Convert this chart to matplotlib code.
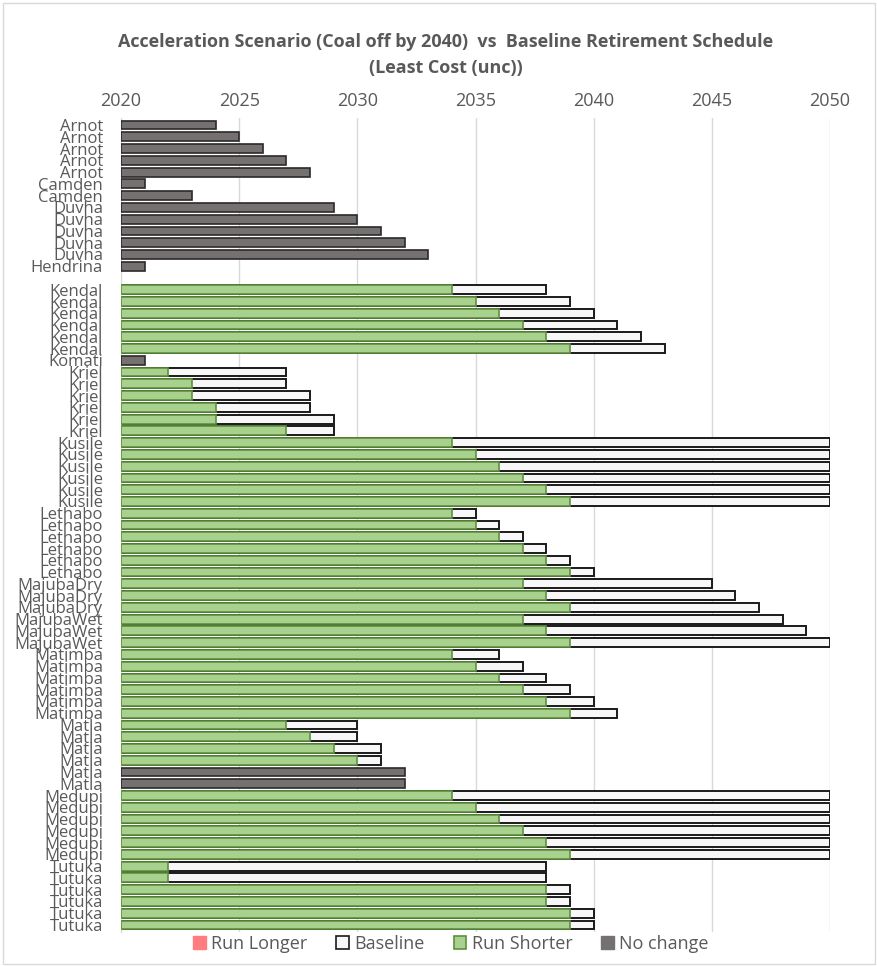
import matplotlib
matplotlib.use("Agg")
import matplotlib.pyplot as plt
import numpy as np
from matplotlib.patches import Patch, Rectangle

plt.rcParams['font.family'] = ['Open Sans', 'DejaVu Sans']

N = np.nan
plants = (["Arnot"] * 5 + ["Camden"] * 2 + ["Duvha"] * 5 + ["Hendrina", ""] +
          ["Kendal"] * 6 + ["Komati"] + ["Kriel"] * 6 + ["Kusile"] * 6 +
          ["Lethabo"] * 6 + ["MajubaDry"] * 3 + ["MajubaWet"] * 3 +
          ["Matimba"] * 6 + ["Matla"] * 6 + ["Medupi"] * 6 + ["Tutuka"] * 6)

run_shorter = ([N] * 5 + [N] * 2 + [N] * 5 + [N, N] +
               [2034, 2035, 2036, 2037, 2038, 2039] + [N] +
               [2022, 2023, 2023, 2024, 2024, 2027] +
               [2034, 2035, 2036, 2037, 2038, 2039] +
               [2034, 2035, 2036, 2037, 2038, 2039] +
               [2037, 2038, 2039] + [2037, 2038, 2039] +
               [2034, 2035, 2036, 2037, 2038, 2039] +
               [2027, 2028, 2029, 2030, N, N] +
               [2034, 2035, 2036, 2037, 2038, 2039] +
               [2022, 2022, 2038, 2038, 2039, 2039])

baseline = ([N] * 5 + [N] * 2 + [N] * 5 + [N, N] +
            [2038, 2039, 2040, 2041, 2042, 2043] + [N] +
            [2027, 2027, 2028, 2028, 2029, 2029] +
            [2050] * 6 +
            [2035, 2036, 2037, 2038, 2039, 2040] +
            [2045, 2046, 2047] + [2048, 2049, 2050] +
            [2036, 2037, 2038, 2039, 2040, 2041] +
            [2030, 2030, 2031, 2031, N, N] +
            [2050] * 6 +
            [2038, 2038, 2039, 2039, 2040, 2040])

no_change = ([2024, 2025, 2026, 2027, 2028] + [2021, 2023] +
             [2029, 2030, 2031, 2032, 2033] + [2021, N] +
             [N] * 6 + [2021] + [N] * 6 + [N] * 6 + [N] * 6 + [N] * 3 + [N] * 3 +
             [N] * 6 + [N, N, N, N, 2032, 2032] + [N] * 6 + [N] * 6)

start_year = 2020
xticks = [2020, 2025, 2030, 2035, 2040, 2045, 2050]

fig = plt.figure(figsize=(8.78, 9.66), dpi=100)
ax = fig.add_axes([121 / 878, 1 - 932 / 966, (830 - 121) / 878, (932 - 118) / 966])

y = np.arange(len(plants))
h = 0.75
base = np.array(baseline, dtype=float)
short = np.array(run_shorter, dtype=float)
nc = np.array(no_change, dtype=float)

ax.barh(y, base - start_year, left=start_year, height=h, color='#F7F7F7',
        edgecolor='#1A1A1A', linewidth=1.4, zorder=2)
ax.barh(y, short - start_year, left=start_year, height=h, color='#A9D18E',
        edgecolor='#5E8F3E', linewidth=1.2, zorder=3)
ax.barh(y, nc - start_year, left=start_year, height=h, color='#767171',
        edgecolor='#2B2929', linewidth=1.2, zorder=3)

ax.set_xlim(2020, 2050)
ax.set_ylim(len(plants) - 1 + 0.6, -0.6)
ax.set_xticks(xticks)
ax.xaxis.tick_top()
ax.tick_params(axis='x', length=0, labelsize=13, labelcolor='#595959', pad=6)
ax.set_yticks(y)
ax.set_yticklabels(plants)
ax.tick_params(axis='y', length=0, labelsize=12, labelcolor='#595959', pad=13)
ax.grid(axis='x', color='#D9D9D9', linewidth=1, zorder=1)
ax.set_axisbelow(True)
for s in ['top', 'right', 'bottom']:
    ax.spines[s].set_visible(False)
ax.spines['left'].set_color('#D9D9D9')

fig.text(0.508, 1 - 42 / 966, "Acceleration Scenario (Coal off by 2040)  vs  Baseline Retirement Schedule",
         ha='center', va='center', fontsize=13, fontweight='bold', color='#595959')
fig.text(0.508, 1 - 68 / 966, "(Least Cost (unc))",
         ha='center', va='center', fontsize=13, fontweight='bold', color='#595959')

handles = [Patch(facecolor='#FF7C80', edgecolor='#FF7C80', label='Run Longer'),
           Patch(facecolor='#F7F7F7', edgecolor='#1A1A1A', linewidth=1.2, label='Baseline'),
           Patch(facecolor='#A9D18E', edgecolor='#5E8F3E', linewidth=1.2, label='Run Shorter'),
           Patch(facecolor='#767171', edgecolor='#767171', label='No change')]
leg = fig.legend(handles=handles, loc='center', bbox_to_anchor=(451 / 878, 1 - 944 / 966),
                 ncol=4, frameon=False, fontsize=13, handlelength=0.7, handleheight=0.7,
                 handletextpad=0.3, columnspacing=1.6, labelcolor='#595959')

fig.patches.append(Rectangle((0.003, 0.002), 0.994, 0.995, transform=fig.transFigure,
                             fill=False, edgecolor='#D9D9D9', linewidth=1))

fig.savefig('out.png', dpi=100)
